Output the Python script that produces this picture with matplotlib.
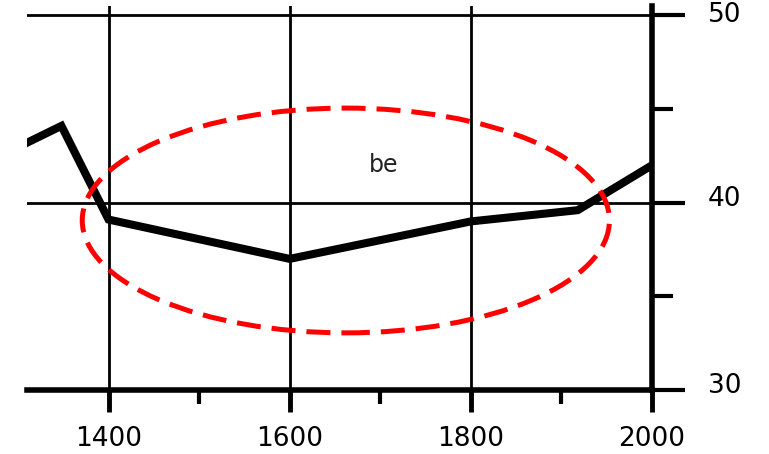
import numpy as np
import matplotlib.pyplot as plt
from matplotlib.patches import Ellipse
from matplotlib.transforms import ScaledTranslation

# values
years = [1310, 1348, 1400, 1600, 1800, 1918, 2000]
values = [43.2, 44.1, 39.1, 37.0, 39.0, 39.6, 42.0]

x_major = [1400, 1600, 1800, 2000]
x_minor = [1500, 1700, 1900]
y_major = [30, 40, 50]
y_minor = [35, 45]

fig = plt.figure(figsize=(7.69, 4.54), dpi=100)
ax = fig.add_axes([27 / 769, 64 / 454, 625 / 769, 384 / 454])

ax.plot(years, values, color='black', lw=5.8, solid_joinstyle='miter', zorder=3)

# red dashed ellipse round the dip
ell = Ellipse((1662, 39.05), 582, 12.0, fill=False, edgecolor='#ff0000',
              lw=3.6, linestyle=(0, (4.8, 2.2)), zorder=4, clip_on=False)
ax.add_patch(ell)

ax.text(1704, 42.0, 'be', fontsize=17, ha='center', va='center', color='#222222')

ax.set_xlim(1310, 2000)
ax.set_ylim(30, 50.5)

for s in ['left', 'top']:
    ax.spines[s].set_visible(False)
for s in ['right', 'bottom']:
    ax.spines[s].set_linewidth(4)

ax.yaxis.tick_right()
ax.set_xticks(x_major)
ax.set_xticks(x_minor, minor=True)
ax.set_yticks(y_major)
ax.set_yticks(y_minor, minor=True)

ax.tick_params(axis='x', which='major', direction='out', length=16, width=3.5, pad=10, labelsize=19)
ax.tick_params(axis='x', which='minor', direction='out', length=10, width=3)
ax.tick_params(axis='y', which='major', direction='out', length=24, width=3, pad=16, labelsize=19)
ax.tick_params(axis='y', which='minor', direction='out', length=15, width=3)

ax.grid(True, which='major', color='black', lw=2)

# y labels sit a little above their ticks (top one kept inside the figure)
for lab, v in zip(ax.get_yticklabels(), y_major):
    up = 3 if v == 50 else 7
    lab.set_transform(lab.get_transform() + ScaledTranslation(0, up / 100, fig.dpi_scale_trans))

fig.savefig('out.png', dpi=100)
